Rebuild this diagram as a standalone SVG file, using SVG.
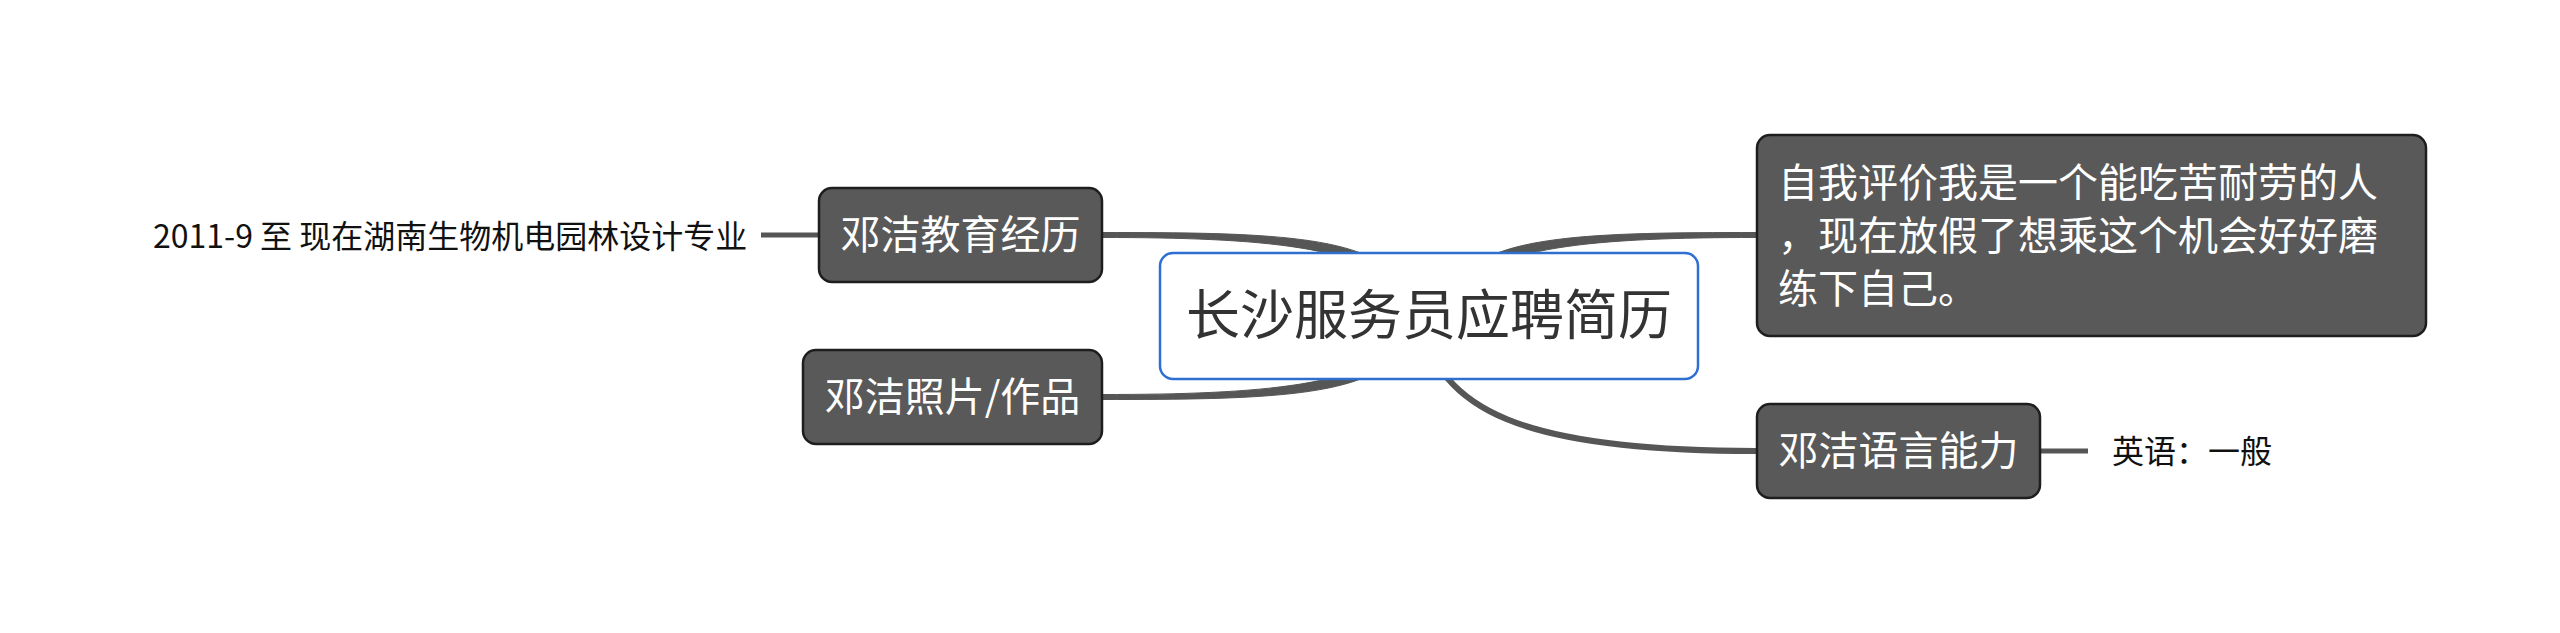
<svg xmlns="http://www.w3.org/2000/svg" width="2560" height="633" viewBox="0 0 2560 633">
<style>
.conn{fill:#565656;stroke:#565656;stroke-width:1;stroke-linejoin:round}
.line{fill:none;stroke:#565656;stroke-width:5;stroke-linecap:butt}
.curve{fill:none;stroke:#565656;stroke-width:6;stroke-linecap:butt}
.sub{fill:#595959;stroke:#1e1e1e;stroke-width:2.5}
.subt{font-family:"Noto Sans CJK SC","Noto Sans",sans-serif;font-size:40px;fill:#ffffff}
.leaf{font-family:"Noto Sans CJK SC","Noto Sans",sans-serif;font-size:32px;fill:#111111}
.root{fill:#ffffff;stroke:#2f6fd1;stroke-width:2.5}
.roott{font-family:"Noto Sans CJK SC","Noto Sans",sans-serif;font-size:54px;fill:#333333}
</style>
<rect width="2560" height="633" fill="#ffffff"/>
<g id="connectors">
<path class="conn" d="M1400,284 C1375,234 1260,232.5 1102,232.5 L1102,237.5 C1260,237.5 1375,246 1400,296 Z"/>
<path class="conn" d="M1400,348 C1375,398 1260,399.5 1102,399.5 L1102,394.5 C1260,394.5 1375,386 1400,336 Z"/>
<path class="conn" d="M1458,284 C1483,234 1598,232.5 1756,232.5 L1756,237.5 C1598,237.5 1483,246 1458,296 Z"/>
<path class="curve" d="M1420,320 C1440,410 1520,451 1756,451"/>
<path class="line" d="M761,235 L819,235"/>
<path class="line" d="M2040,451 L2088,451"/>
</g>
<g id="root">
<rect class="root" x="1160" y="253" width="538" height="126" rx="13"/>
<text class="roott" x="1429" y="335" text-anchor="middle">长沙服务员应聘简历</text>
</g>
<g id="edu">
<rect class="sub" x="819" y="188" width="283" height="94" rx="13"/>
<text class="subt" x="960.5" y="249" text-anchor="middle">邓洁教育经历</text>
</g>
<g id="edu-detail">
<text class="leaf" x="153" y="248">2011-9 至 现在湖南生物机电园林设计专业</text>
</g>
<g id="photo">
<rect class="sub" x="803" y="350" width="299" height="94" rx="13"/>
<text class="subt" x="952.5" y="411" text-anchor="middle">邓洁照片/作品</text>
</g>
<g id="self">
<rect class="sub" x="1757" y="135" width="669" height="201" rx="13"/>
<text class="subt" x="1778" y="197">自我评价我是一个能吃苦耐劳的人</text>
<text class="subt" x="1778" y="250">，现在放假了想乘这个机会好好磨</text>
<text class="subt" x="1778" y="303">练下自己。</text>
</g>
<g id="lang">
<rect class="sub" x="1757" y="404" width="283" height="94" rx="13"/>
<text class="subt" x="1898.5" y="465" text-anchor="middle">邓洁语言能力</text>
</g>
<g id="lang-detail">
<text class="leaf" x="2112" y="463">英语：一般</text>
</g>
</svg>
